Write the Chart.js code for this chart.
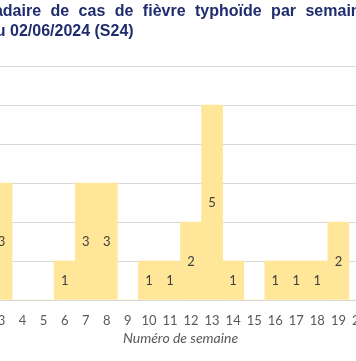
<!DOCTYPE html>
<html>
<head>
<meta charset="utf-8">
<script src="https://cdn.jsdelivr.net/npm/chart.js@4.4.1/dist/chart.umd.min.js"></script>
<style>
  html, body { margin: 0; padding: 0; background: #fff; overflow: hidden; width: 356px; height: 361px; }
  #wrap { position: relative; width: 356px; height: 361px; overflow: hidden; }
  .title { position: absolute; white-space: nowrap; font-family: "Liberation Sans", Arial, sans-serif;
           font-weight: bold; font-size: 16px; line-height: 20px; color: #1f2d6e; word-spacing: 5px; }
  #cv { position: absolute; left: -9px; top: 0; }
</style>
</head>
<body>
<div id="wrap">
  <canvas id="cv" width="379" height="361"></canvas>
  <div class="title" id="t1">Nombre hebdomadaire de cas de fièvre <span id="a1">typhoïde</span> par semaine</div>
  <div class="title" id="t2" style="word-spacing:0">du 01/01/2024 au <span id="a2">02/06/2024</span> (S24)</div>
</div>
<script>
const weeks = ["3","4","5","6","7","8","9","10","11","12","13","14","15","16","17","18","19","20"];
const cases = [3, 0, 0, 1, 3, 3, 0, 1, 1, 2, 5, 1, 0, 1, 1, 1, 2, 0];
const yTicks = [0, 1, 2, 3, 4, 5, 6];
const xTitle = "Numéro de semaine";

function place(divId, spanId, x, top) {
  const d = document.getElementById(divId), s = document.getElementById(spanId);
  d.style.left = "0px"; d.style.top = top + "px";
  const off = s.getBoundingClientRect().left - d.getBoundingClientRect().left;
  d.style.left = (x - off) + "px";
}
place("t1", "a1", 195, 1);
place("t2", "a2", 10, 21);

const barLabels = {
  id: "barLabels",
  afterDatasetsDraw(chart) {
    const ctx = chart.ctx;
    const meta = chart.getDatasetMeta(0);
    ctx.save();
    ctx.font = "13px Lato, 'Open Sans', sans-serif";
    ctx.fillStyle = "#404040";
    ctx.textAlign = "center";
    ctx.textBaseline = "middle";
    meta.data.forEach((bar, i) => {
      const v = cases[i];
      if (!v) return;
      const p = bar.getProps(["x", "y", "base"], true);
      ctx.fillText(String(v), p.x, (p.y + p.base) / 2 + 1);
    });
    ctx.restore();
  }
};

new Chart(document.getElementById("cv"), {
  type: "bar",
  data: {
    labels: weeks,
    datasets: [{
      data: cases,
      backgroundColor: "#FFE699",
      borderWidth: 0,
      categoryPercentage: 1.0,
      barPercentage: 1.0
    }]
  },
  options: {
    responsive: false,
    animation: false,
    events: [],
    layout: { padding: { top: 66, bottom: 0, left: 0, right: 0 } },
    plugins: { legend: { display: false }, tooltip: { enabled: false }, title: { display: false } },
    scales: {
      x: {
        afterFit(scale) { scale.height = 61; },
        grid: { display: false, drawTicks: false },
        border: { display: false },
        ticks: { color: "#595959", font: { family: "Lato, 'Open Sans', sans-serif", size: 13, lineHeight: "42px" }, padding: 0, maxRotation: 0, autoSkip: false },
        title: { display: true, text: xTitle, color: "#595959",
                 font: { family: "Lato, 'Open Sans', sans-serif", size: 14, style: "italic" },
                 padding: { top: 0, bottom: 14 } }
      },
      y: {
        min: 0, max: 6,
        afterBuildTicks(scale) { scale.ticks = yTicks.map(v => ({ value: v })); },
        afterFit(scale) { scale.width = 0; },
        ticks: { display: false },
        grid: { color: "#d9d9d9", lineWidth: 1, drawTicks: false },
        border: { display: false }
      }
    }
  },
  plugins: [barLabels]
});
</script>
</body>
</html>
